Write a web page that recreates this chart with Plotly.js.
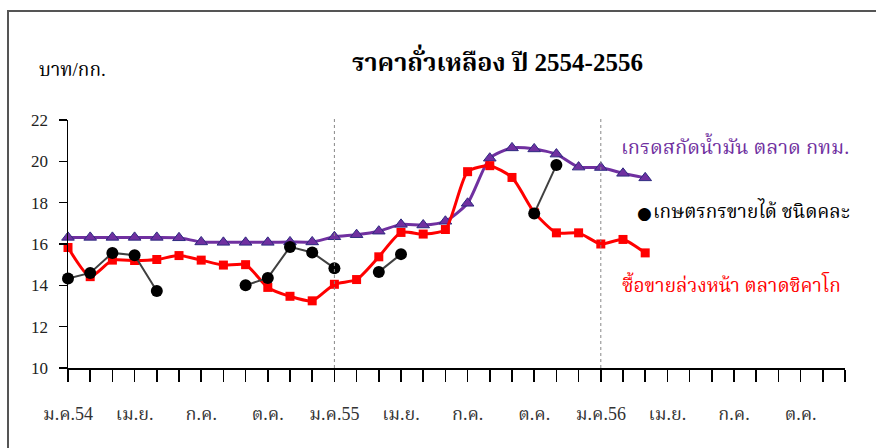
<!DOCTYPE html>
<html>
<head>
<meta charset="utf-8">
<script src="https://cdn.plot.ly/plotly-3.0.1.min.js"></script>
<style>html,body{margin:0;padding:0;background:#fff;}#chart{width:876px;height:448px;}</style>
</head>
<body>
<div id="chart"></div>
<script>
// Months (categories) Jan 2554 .. Dec 2556
const monthNames = ["ม.ค.","ก.พ.","มี.ค.","เม.ย.","พ.ค.","มิ.ย.","ก.ค.","ส.ค.","ก.ย.","ต.ค.","พ.ย.","ธ.ค."];
const years = ["54","55","56"];
const categories = [];
years.forEach(y => monthNames.forEach(m => categories.push(m + y)));

// Tick labels (every 3 months)
const tickLabels = ["ม.ค.54","","","เม.ย.","","","ก.ค.","","","ต.ค.","","",
                    "ม.ค.55","","","เม.ย.","","","ก.ค.","","","ต.ค.","","",
                    "ม.ค.56","","","เม.ย.","","","ก.ค.","","","ต.ค.","",""];

// Series values (บาท/กก.)
const bangkokExtraction = [16.32,16.32,16.32,16.32,16.32,16.30,16.10,16.08,16.08,16.08,16.10,16.10,
                           16.35,16.45,16.62,16.95,16.92,17.10,17.97,20.15,20.65,20.60,20.35,19.72,
                           19.70,19.42,19.20];
const farmerMixed = [14.33,14.60,15.57,15.46,13.73,null,null,null,14.00,14.36,15.86,15.59,
                     14.83,null,14.65,15.51,null,null,null,null,null,17.48,19.82];
const chicagoFutures = [15.83,14.42,15.22,15.20,15.25,15.44,15.22,14.98,15.00,13.90,13.47,13.25,
                        14.05,14.28,15.38,16.56,16.48,16.70,19.50,19.79,19.22,17.53,16.54,16.54,
                        16.00,16.22,15.57];

const seriesNames = ["เกรดสกัดน้ำมัน ตลาด กทม.", "เกษตรกรขายได้ ชนิดคละ", "ซื้อขายล่วงหน้า ตลาดชิคาโก"];
const yTicks = [10,12,14,16,18,20,22];
const yearStarts = ["ม.ค.55","ม.ค.56"];

const thaiFont = "Liberation Serif, 'Noto Serif Thai', 'Noto Sans Thai', 'Noto Sans', serif";

const traces = [
  {
    x: categories.slice(0, bangkokExtraction.length), y: bangkokExtraction, name: seriesNames[0],
    type: "scatter", mode: "lines+markers", cliponaxis: false,
    line: {color: "#7030A0", width: 3, shape: "spline", smoothing: 0.6},
    marker: {symbol: "triangle-up", size: 11, color: "#7030A0", line: {color: "#2E2A80", width: 1}}
  },
  {
    x: categories.slice(0, chicagoFutures.length), y: chicagoFutures, name: seriesNames[2],
    type: "scatter", mode: "lines+markers", cliponaxis: false,
    line: {color: "#FF0000", width: 3, shape: "spline", smoothing: 0.6},
    marker: {symbol: "square", size: 9, color: "#FF0000"}
  },
  {
    x: categories.slice(0, farmerMixed.length), y: farmerMixed, name: seriesNames[1],
    type: "scatter", mode: "lines+markers", cliponaxis: false, connectgaps: false,
    line: {color: "#404040", width: 2},
    marker: {symbol: "circle", size: 12, color: "#000000"}
  }
];

const shapes = [
  {type: "rect", xref: "paper", yref: "paper", x0: -60/777, x1: 1.2, y0: -0.5, y1: (368-11)/248,
   line: {color: "#555", width: 2}, fillcolor: "rgba(0,0,0,0)", layer: "below"}
];
yearStarts.forEach(c => shapes.push({
  type: "line", xref: "x", yref: "paper", x0: c, x1: c, y0: 0, y1: (368-117)/248,
  line: {color: "#888", width: 1, dash: "dot"}
}));

function ann(px, py, text, size, color, xanchor) {
  return {xref: "paper", yref: "paper", x: (px-68)/777, y: (368-py)/248, text: text,
          xanchor: xanchor || "center", yanchor: "middle", showarrow: false,
          font: {family: thaiFont, size: size, color: color}};
}

const annotations = [
  ann(497, 60, "<b>ราคาถั่วเหลือง ปี 2554-2556</b>", 25, "#000"),
  ann(37, 70, "บาท/กก.", 19, "#000", "left"),
  ann(735, 145, seriesNames[0], 20, "#7030A0"),
  Object.assign(ann(635, 213, "●", 17, "#000", "left"), {font: {family: "DejaVu Sans", size: 17, color: "#000"}}),
  ann(651, 210, seriesNames[1], 19, "#000", "left"),
  ann(731, 283, seriesNames[2], 19, "#FF0000")
];

const layout = {
  width: 876, height: 448,
  margin: {l: 68, r: 31, t: 120, b: 80},
  paper_bgcolor: "#fff", plot_bgcolor: "#fff",
  showlegend: false,
  xaxis: {
    type: "category", categoryorder: "array", categoryarray: categories,
    range: [0, 35], tickmode: "array", tickvals: categories, ticktext: tickLabels,
    ticks: "outside", ticklen: 12, tickwidth: 1.5, tickcolor: "#000",
    showline: true, linecolor: "#000", linewidth: 1.5, showgrid: false, zeroline: false,
    ticklabelstandoff: 17,
    tickfont: {family: thaiFont, size: 18, color: "#333"}
  },
  yaxis: {
    range: [10, 22], tickvals: yTicks,
    ticks: "outside", ticklen: 8, tickwidth: 1.5, tickcolor: "#000",
    showline: true, linecolor: "#000", linewidth: 1.5, showgrid: false, zeroline: false,
    ticklabelstandoff: 7,
    tickfont: {family: thaiFont, size: 17, color: "#222"}
  },
  shapes: shapes,
  annotations: annotations
};

Plotly.newPlot("chart", traces, layout, {displayModeBar: false, staticPlot: true});
</script>
</body>
</html>
